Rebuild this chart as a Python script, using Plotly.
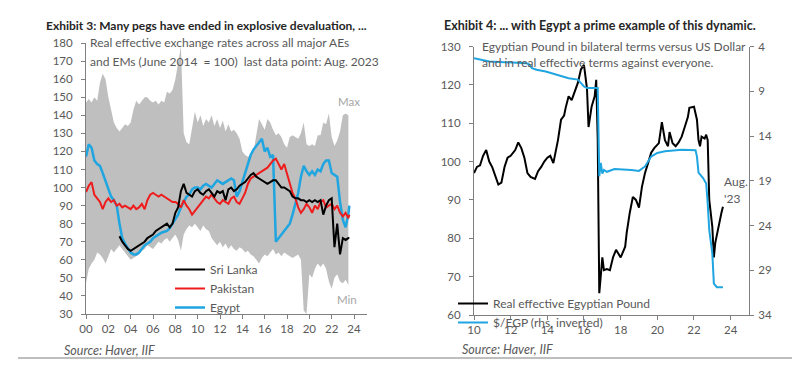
import plotly.graph_objects as go

FONT = "Lato, 'Open Sans', sans-serif"
TXT = "#595959"

# ---------------- Exhibit 3 data (quarterly from 2000-Q1) ----------------
band_max = [147, 149, 147, 150, 148, 158, 163, 160, 150, 142, 136, 133,
            131, 133, 135, 134, 136, 143, 148, 146, 148, 150, 150, 148,
            147, 148, 146, 148, 147, 153, 152, 154, 160, 170, 178, 130,
            125, 124, 133, 142, 136, 140, 134, 138, 136, 140, 134, 138,
            133, 137, 131, 135, 131, 132, 130, 127, 120, 118, 117, 118,
            120, 130, 138, 135, 132, 138, 136, 132, 129, 130, 128, 124,
            122, 128, 129, 128, 127, 130, 136, 124, 123, 124, 123, 129,
            129, 136, 135, 141, 128, 123, 126, 131, 140, 141, 140]
band_min = [47, 55, 58, 60, 64, 63, 61, 58, 62, 66, 64, 66,
            68, 66, 64, 62, 60, 61, 62, 63, 65, 66, 68, 67,
            66, 68, 70, 69, 71, 72, 70, 72, 74, 71, 65, 74,
            77, 79, 78, 80, 78, 76, 79, 77, 76, 72, 70, 68,
            70, 67, 69, 66, 68, 66, 65, 67, 66, 64, 65, 63,
            62, 60, 58, 61, 63, 62, 64, 66, 63, 64, 62, 64,
            63, 62, 61, 62, 63, 60, 32, 30, 52, 50, 55, 58,
            56, 58, 55, 48, 44, 50, 52, 48, 47, 49, 46]
egypt = [117, 124, 122, 115, 113, 112, 108, 104, 100, 95, 93, 90,
         80, 72, 69, 66.5, 64, 63, 63, 64, 66, 68, 69, 70,
         72, 73, 74, 75, 75.5, 76, 77.5, 80, 83, 85, 89, 92,
         95, 96, 99, 100, 100, 99, 101, 102, 101, 100, 102, 104,
         103, 102, 103, 104, 105, 104, 95, 98, 103, 108, 114, 118,
         121, 123, 125, 127, 120, 122, 117, 118, 70, 72, 74, 76,
         77.5, 80, 85, 91, 97, 106, 112, 109, 107, 109, 107, 110,
         109, 113, 115, 115, 108, 107, 106, 92, 82, 78, 85, 90]
pakistan = [97.5, 101, 103, 96, 94, 92, 88, 92, 94, 92, 93, 90,
            91, 89, 90, 89, 88, 90, 88, 89, 91, 88, 93, 96,
            97, 96, 95, 96, 95, 94, 93, 92, 92, 91, 89, 93,
            90, 88, 85, 87, 89, 91, 93, 95, 94, 96, 94, 92,
            91, 93, 92, 91, 94, 95, 92, 91, 94, 97, 102, 105,
            106, 107, 108, 109, 110, 111, 113, 115, 116, 113, 110, 113,
            108, 102, 97, 94, 89, 86, 88, 91, 89, 86, 90, 88,
            92, 93, 89, 90, 91, 88, 90, 86, 84, 86, 83, 85]
srilanka = [73, 70, 68, 66, 65, 66, 67, 68, 69, 70, 72, 73,
            74, 76, 77, 78, 79, 80, 78, 80, 86, 89, 98, 102,
            97, 96, 95, 98, 99, 97, 96, 98, 99, 97, 95, 98,
            97, 98, 93, 99, 100, 98, 99, 101, 102, 103, 105, 107,
            108, 106, 105, 104, 103, 102, 103, 104, 104, 102, 100, 100,
            99, 98, 95, 94, 94, 93, 93, 92, 93, 92, 93, 92,
            93, 85, 90, 93, 94, 67, 80, 63, 72, 71, 72, 72]

quarters = [f"{2000 + i // 4}-{1 + 3 * (i % 4):02d}-01" for i in range(95)]
last_month = "2023-08-01"
band_dates = quarters
line_dates = quarters + [last_month]
sl_dates = quarters[12:] + [last_month]

x3_ticks = [f"{y}-01-01" for y in range(2000, 2025, 2)]
x3_text = [f"{y % 100:02d}" for y in range(2000, 2025, 2)]

# ---------------- Exhibit 4 data ----------------
reer_dates = ["2010-01", "2010-03", "2010-05", "2010-07", "2010-09", "2010-11",
              "2011-01", "2011-03", "2011-05", "2011-07", "2011-09", "2011-11",
              "2012-01", "2012-04", "2012-06", "2012-08", "2012-10", "2012-12",
              "2013-02", "2013-05", "2013-07", "2013-09", "2013-11",
              "2014-01", "2014-03", "2014-05", "2014-08", "2014-10", "2014-12",
              "2015-01", "2015-03", "2015-05", "2015-07", "2015-09", "2015-11",
              "2016-01", "2016-03", "2016-04", "2016-06", "2016-08", "2016-09",
              "2016-10", "2016-11", "2017-01", "2017-02", "2017-04", "2017-06",
              "2017-08", "2017-10", "2018-01", "2018-04", "2018-05", "2018-07",
              "2018-09", "2018-11", "2019-01", "2019-03", "2019-05", "2019-07",
              "2019-09", "2019-11", "2020-02", "2020-04", "2020-06", "2020-08",
              "2020-09", "2020-11", "2021-01", "2021-03", "2021-05", "2021-07",
              "2021-09", "2021-10", "2022-01", "2022-03", "2022-04", "2022-05",
              "2022-06", "2022-08", "2022-09", "2022-10", "2022-11", "2023-01",
              "2023-02", "2023-03", "2023-05", "2023-07", "2023-08"]
reer_vals = [97, 98.6, 99, 101.5, 103, 100,
             98.5, 96, 94, 94.5, 98.6, 101,
             101.5, 103, 105, 103.5, 101, 97,
             96, 95.5, 97.5, 98.6, 100,
             101, 101.5, 99.6, 105.6, 110.9, 112,
             114, 117, 116, 118, 120.5, 124,
             125.2, 119, 109, 114.3, 117, 121.3,
             105.6, 65.7, 75, 71.7, 72, 71.7,
             75, 77, 75, 77.8, 81.4, 86.6,
             90.8, 90, 88, 93.4, 97, 99.6,
             102.3, 103.5, 104.8, 110.3, 105.6, 104,
             107.7, 104.8, 104, 105, 106.5, 109,
             111.6, 114, 114.3, 110.9, 105.6, 104,
             106.5, 106, 107, 105.6, 90, 83,
             75, 78.8, 83, 86.6, 88.2]
usd_dates = ["2010-01", "2010-11", "2012-11", "2013-01", "2013-03", "2013-06",
             "2013-12", "2014-08", "2015-03", "2015-09", "2016-01", "2016-03",
             "2016-10", "2016-11", "2016-12", "2017-01", "2017-02", "2017-04",
             "2017-09", "2018-08", "2019-01", "2019-05", "2019-09", "2020-01",
             "2020-06", "2021-05", "2022-02", "2022-03", "2022-04", "2022-07",
             "2022-09", "2022-10", "2022-11", "2023-01", "2023-02", "2023-04",
             "2023-08"]
usd_vals = [5.3, 5.68, 5.86, 6.0, 6.42, 6.6,
            6.8, 7.17, 7.54, 7.7, 8.47, 8.65,
            8.65, 18.5, 17.0, 18.2, 17.8, 18.0,
            17.7, 17.8, 17.9, 17.4, 16.3, 15.9,
            15.7, 15.55, 15.6, 16.3, 18.1, 18.7,
            19.3, 21.5, 24.5, 27.1, 30.5, 30.9,
            30.9]

x4_ticks = [f"{y}-01-01" for y in range(2010, 2025, 2)]
x4_text = [f"{y % 100:02d}" for y in range(2010, 2025, 2)]
y4r_ticks = [4, 9, 14, 19, 24, 29, 34]

fig = go.Figure()

# band
fig.add_trace(go.Scatter(x=band_dates, y=band_max, mode="lines", line=dict(width=0, color="#BFBFBF"),
                         showlegend=False, hoverinfo="skip", xaxis="x", yaxis="y"))
fig.add_trace(go.Scatter(x=band_dates, y=band_min, mode="lines", line=dict(width=0, color="#BFBFBF"),
                         fill="tonexty", fillcolor="#BFBFBF", showlegend=False, hoverinfo="skip",
                         xaxis="x", yaxis="y"))
fig.add_trace(go.Scatter(x=line_dates, y=egypt, mode="lines", name="Egypt", legend="legend",
                         line=dict(color="#1FA5E0", width=2.5), legendrank=3, xaxis="x", yaxis="y"))
fig.add_trace(go.Scatter(x=line_dates, y=pakistan, mode="lines", name="Pakistan", legend="legend",
                         line=dict(color="#EE1C1C", width=2), legendrank=2, xaxis="x", yaxis="y"))
fig.add_trace(go.Scatter(x=sl_dates, y=srilanka, mode="lines", name="Sri Lanka", legend="legend",
                         line=dict(color="#000000", width=2), legendrank=1, xaxis="x", yaxis="y"))

# exhibit 4
fig.add_trace(go.Scatter(x=reer_dates, y=reer_vals, mode="lines", name="Real effective Egyptian Pound",
                         legend="legend2", line=dict(color="#000000", width=2), legendrank=1,
                         xaxis="x2", yaxis="y2"))
fig.add_trace(go.Scatter(x=usd_dates, y=usd_vals, mode="lines", name="$/EGP (rhs, inverted)",
                         legend="legend2", line=dict(color="#1FA5E0", width=2), legendrank=2,
                         xaxis="x2", yaxis="y3"))

W, H = 800, 365
def px(v):
    return v / W
def py(v):
    return (H - v) / H

axcommon = dict(showgrid=False, zeroline=False, showline=True, linecolor="#7F7F7F", linewidth=1,
                ticks="outside", ticklen=4, tickcolor="#7F7F7F", automargin=False,
                tickfont=dict(family=FONT, size=11.5, color=TXT))

fig.update_layout(
    width=W, height=H, margin=dict(l=0, r=0, t=0, b=0, autoexpand=False),
    paper_bgcolor="white", plot_bgcolor="white",
    font=dict(family=FONT, size=12, color=TXT),
    xaxis=dict(domain=[px(86), px(367)], type="date", range=["2000-01-01", "2025-03-01"],
               tickvals=x3_ticks, ticktext=x3_text, anchor="y", **axcommon),
    yaxis=dict(domain=[py(314), py(43)], range=[30, 180], dtick=10, anchor="x",
               ticklabelstandoff=6, **axcommon),
    xaxis2=dict(domain=[px(474), px(749)], type="date", range=["2010-01-01", "2025-01-01"],
                tickvals=x4_ticks, ticktext=x4_text, anchor="y2", **axcommon),
    yaxis2=dict(domain=[py(315), py(46.5)], range=[60, 130], dtick=10, anchor="x2",
                ticklabelstandoff=6, **axcommon),
    yaxis3=dict(range=[34, 4], tickvals=y4r_ticks, overlaying="y2", side="right", anchor="x2",
                ticklabelstandoff=2, **axcommon),
    legend=dict(x=px(170), y=py(255), xanchor="left", yanchor="top", bgcolor="rgba(0,0,0,0)",
                font=dict(family=FONT, size=12, color=TXT), tracegroupgap=0, itemwidth=30,
                traceorder="normal"),
    legend2=dict(x=px(453), y=py(289), xanchor="left", yanchor="top", bgcolor="rgba(0,0,0,0)",
                 font=dict(family=FONT, size=12, color=TXT), tracegroupgap=0, itemwidth=30,
                 traceorder="normal"),
    showlegend=True,
)

ann = [
    dict(x=px(44), y=py(25), text="<b>Exhibit 3: Many pegs have ended in explosive devaluation, ...</b>",
         font=dict(size=12, color="#262626")),
    dict(x=px(442), y=py(25), text="<b>Exhibit 4: ... with Egypt a prime example of this dynamic.</b>",
         font=dict(size=12.5, color="#262626")),
    dict(x=px(88), y=py(43), text="Real effective exchange rates across all major AEs"),
    dict(x=px(88), y=py(62), text="and EMs (June 2014  = 100)  last data point: Aug. 2023"),
    dict(x=px(480), y=py(46), text="Egyptian Pound in bilateral terms versus US Dollar"),
    dict(x=px(480), y=py(63), text="and in real effective terms against everyone."),
    dict(x=px(62), y=py(350), text="<i>Source: Haver, IIF</i>", font=dict(size=12.5, color=TXT)),
    dict(x=px(460), y=py(349), text="<i>Source: Haver, IIF</i>", font=dict(size=12.5, color=TXT)),
    dict(x=px(336), y=py(102), text="Max", font=dict(size=11.5, color="#A6A6A6")),
    dict(x=px(335), y=py(299), text="Min", font=dict(size=11.5, color="#A6A6A6")),
    dict(x=px(722), y=py(182), text="Aug.", font=dict(size=12, color=TXT)),
    dict(x=px(722), y=py(198), text="'23", font=dict(size=12, color=TXT)),
]
for a in ann:
    a.setdefault("font", dict(size=12, color=TXT))
    a["font"].setdefault("family", FONT)
    fig.add_annotation(xref="paper", yref="paper", xanchor="left", yanchor="middle",
                       showarrow=False, **a)

fig.add_shape(type="line", xref="paper", yref="paper", x0=px(18), x1=px(792), y0=py(358), y1=py(358),
              line=dict(color="#7F7F7F", width=1))

fig.write_html("out.html", config={"displayModeBar": False},
               post_script="document.body.style.margin='0';document.body.style.padding='0';")
